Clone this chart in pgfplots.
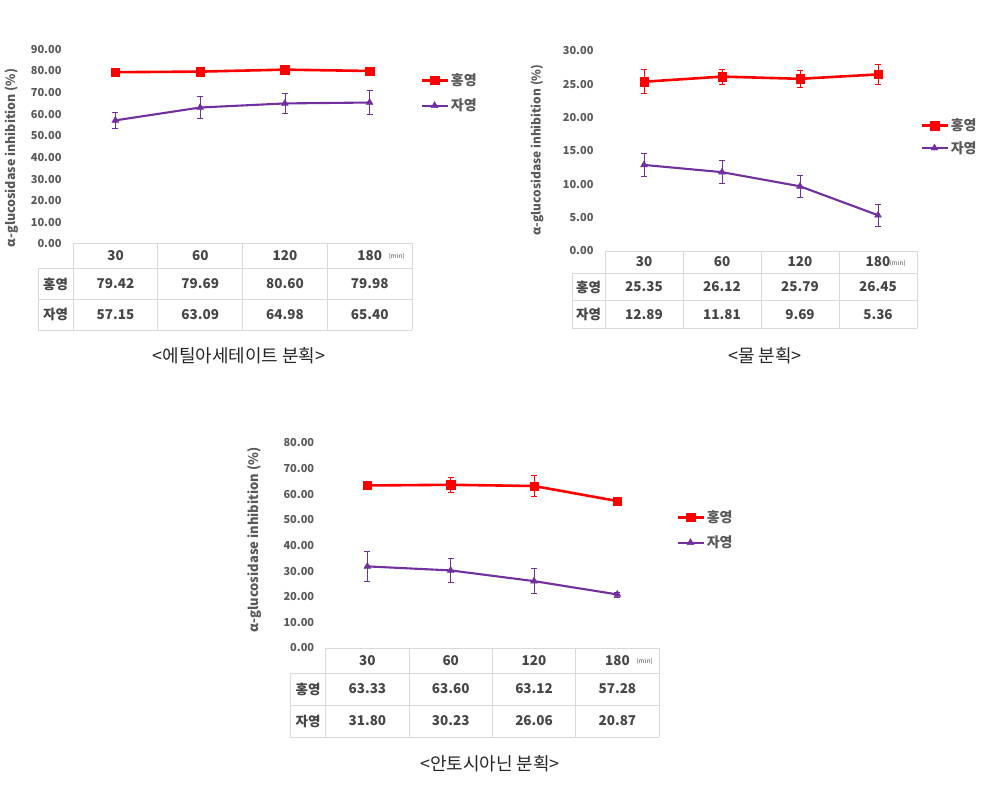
\documentclass[border=0pt]{standalone}
\usepackage{pgfplots}
\pgfplotsset{compat=1.18}
\usepackage{pgfplotstable}
\usepackage{fontspec}
\setmainfont{Noto Sans CJK KR}
\definecolor{myred}{RGB}{255,0,0}
\definecolor{mypurple}{RGB}{112,48,160}
\definecolor{tgray}{RGB}{89,89,89}
\definecolor{dgray}{RGB}{70,70,70}
\definecolor{lgray}{RGB}{217,217,217}

\pgfplotstableread{
x y e
0 79.42 1.0
1 79.69 1.0
2 80.60 2.2
3 79.98 1.2
}\redA
\pgfplotstableread{
x y e
0 57.15 3.8
1 63.09 5.0
2 64.98 4.6
3 65.40 5.4
}\purA
\pgfplotstableread{
x y e
0 25.35 1.8
1 26.12 1.1
2 25.79 1.3
3 26.45 1.5
}\redB
\pgfplotstableread{
x y e
0 12.89 1.7
1 11.81 1.7
2 9.69 1.7
3 5.36 1.7
}\purB
\pgfplotstableread{
x y e
0 63.33 1.0
1 63.60 3.0
2 63.12 4.0
3 57.28 1.2
}\redC
\pgfplotstableread{
x y e
0 31.80 5.8
1 30.23 4.7
2 26.06 4.8
3 20.87 1.0
}\purC

\pgfplotsset{
 panel/.style={scale only axis, xmin=-0.5, xmax=3.5, ymin=0,
  axis line style={draw=none}, xtick=\empty, major tick length=0pt, clip=false,
  yticklabel style={font=\fontsize{11}{12}\selectfont\bfseries, text=tgray, xshift=-8pt},
  yticklabel={\pgfmathprintnumber[fixed,fixed zerofill,precision=2,assume math mode=true]{\tick}},
  legend cell align=left,
  legend image code/.code={\draw[mark repeat=2,mark phase=2,##1] plot coordinates {(0pt,0pt) (13pt,0pt) (26pt,0pt)};},
 },
 redser/.style={myred, line width=2.6pt, mark=square*, mark size=4.2pt, mark options={solid, line width=0.4pt},
  error bars/.cd, y dir=both, y explicit, error bar style={line width=0.7pt, myred},
  error mark options={rotate=90, mark size=3pt, line width=0.7pt, myred}},
 purser/.style={mypurple, line width=2.1pt, mark=triangle*, mark size=4pt, mark options={solid, line width=0.4pt},
  error bars/.cd, y dir=both, y explicit, error bar style={line width=0.7pt, mypurple},
  error mark options={rotate=90, mark size=3pt, line width=0.7pt, mypurple}},
}

\newcommand{\tablegrid}[6]{%
 \pgfmathsetmacro\xe{#2+4*#3}%
 \pgfmathsetmacro\ya{#4+#5}%
 \pgfmathsetmacro\yb{#4+#5+#6}%
 \pgfmathsetmacro\yc{#4+#5+2*#6}%
 \draw[lgray, line width=0.8pt] (#2,#4) -- (\xe,#4);
 \draw[lgray, line width=0.8pt] (#1,\ya) -- (\xe,\ya);
 \draw[lgray, line width=0.8pt] (#1,\yb) -- (\xe,\yb);
 \draw[lgray, line width=0.8pt] (#1,\yc) -- (\xe,\yc);
 \draw[lgray, line width=0.8pt] (#1,\ya) -- (#1,\yc);
 \foreach \i in {0,...,4} {\draw[lgray, line width=0.8pt] ({#2+\i*#3},#4) -- ({#2+\i*#3},\yc);}
}
\newcommand{\tfont}{\fontsize{13.5}{15}\selectfont\bfseries}

\begin{document}
\begin{tikzpicture}
\path[use as bounding box] (0,0) rectangle (993pt,-791pt);

% ---------- Panel 1 ----------
\begin{axis}[panel, width=339pt, height=194.7pt, at={(73pt,-244pt)}, anchor=south west,
 ymax=90, ytick={0,10,...,90},
 legend style={at={(axis description cs:1.015,0.776)}, anchor=west, draw=none, fill=none,
  font=\fontsize{14}{15}\selectfont\bfseries, text=tgray, row sep=8pt}]
\addplot[redser] table[x=x,y=y,y error=e]{\redA};
\addlegendentry{홍영}
\addplot[purser] table[x=x,y=y,y error=e]{\purA};
\addlegendentry{자영}
\end{axis}

% ---------- Panel 2 ----------
\begin{axis}[panel, width=312pt, height=200.3pt, at={(605pt,-251pt)}, anchor=south west,
 ymax=30, ytick={0,5,...,30},
 legend style={at={(axis description cs:1.0,0.57)}, anchor=west, draw=none, fill=none,
  font=\fontsize{14}{15}\selectfont\bfseries, text=tgray, row sep=5pt}]
\addplot[redser] table[x=x,y=y,y error=e]{\redB};
\addlegendentry{홍영}
\addplot[purser] table[x=x,y=y,y error=e]{\purB};
\addlegendentry{자영}
\end{axis}

% ---------- Panel 3 ----------
\begin{axis}[panel, width=333.3pt, height=205.3pt, at={(325.7pt,-648pt)}, anchor=south west,
 ymax=80, ytick={0,10,...,80},
 legend style={at={(axis description cs:1.042,0.575)}, anchor=west, draw=none, fill=none,
  font=\fontsize{14}{15}\selectfont\bfseries, text=tgray, row sep=8pt}]
\addplot[redser] table[x=x,y=y,y error=e]{\redC};
\addlegendentry{홍영}
\addplot[purser] table[x=x,y=y,y error=e]{\purC};
\addlegendentry{자영}
\end{axis}

\begin{scope}[x=1pt,y=-1pt]
% y labels
\node[rotate=90, font=\fontsize{12.5}{14}\selectfont\bfseries, text=tgray] at (12,158) {α-glucosidase inhibition (\%)};
\node[rotate=90, font=\fontsize{12}{14}\selectfont\bfseries, text=tgray] at (537,150) {α-glucosidase inhibition (\%)};
\node[rotate=90, font=\fontsize{13}{14}\selectfont\bfseries, text=tgray] at (255,540) {α-glucosidase inhibition (\%)};

% tables
\tablegrid{38}{73}{84.75}{243}{25}{31}
\tablegrid{572}{605}{78}{251}{22}{27.5}
\tablegrid{290}{325.7}{83.33}{648}{25}{32}

\begin{scope}[every node/.style={font=\tfont, text=dgray}]
% panel 1 table text
\foreach \v [count=\i from 0] in {30,60,120,180} {\node at ({115.5+\i*84.75},255.5) {\v};}
\node[font=\fontsize{6.5}{8}\selectfont, text=tgray, anchor=west] at (385,256.5) {(min)};
\foreach \v [count=\i from 0] in {79.42,79.69,80.60,79.98} {\node at ({115.5+\i*84.75},284) {\v};}
\foreach \v [count=\i from 0] in {57.15,63.09,64.98,65.40} {\node at ({115.5+\i*84.75},314.5) {\v};}
\node at (55.5,284) {홍영};
\node at (55.5,314.5) {자영};

% panel 2 table text
\foreach \v [count=\i from 0] in {30,60,120,180} {\node at ({644+\i*78},262) {\v};}
\node[font=\fontsize{6.5}{8}\selectfont, text=tgray, anchor=west] at (886,263) {(min)};
\foreach \v [count=\i from 0] in {25.35,26.12,25.79,26.45} {\node at ({644+\i*78},287) {\v};}
\foreach \v [count=\i from 0] in {12.89,11.81,9.69,5.36} {\node at ({644+\i*78},314.5) {\v};}
\node at (588.5,287) {홍영};
\node at (588.5,314.5) {자영};

% panel 3 table text
\foreach \v [count=\i from 0] in {30,60,120,180} {\node at ({367.4+\i*83.33},660.5) {\v};}
\node[font=\fontsize{6.5}{8}\selectfont, text=tgray, anchor=west] at (633,661.5) {(min)};
\foreach \v [count=\i from 0] in {63.33,63.60,63.12,57.28} {\node at ({367.4+\i*83.33},689) {\v};}
\foreach \v [count=\i from 0] in {31.80,30.23,26.06,20.87} {\node at ({367.4+\i*83.33},721) {\v};}
\node at (308,689) {홍영};
\node at (308,721) {자영};
\end{scope}

% captions
\node[font=\fontsize{18}{21}\selectfont, text=black!85] at (239,356) {<에틸아세테이트 분획>};
\node[font=\fontsize{18}{21}\selectfont, text=black!85] at (765,356) {<물 분획>};
\node[font=\fontsize{18}{21}\selectfont, text=black!85] at (490,764) {<안토시아닌 분획>};
\end{scope}
\end{tikzpicture}
\end{document}
